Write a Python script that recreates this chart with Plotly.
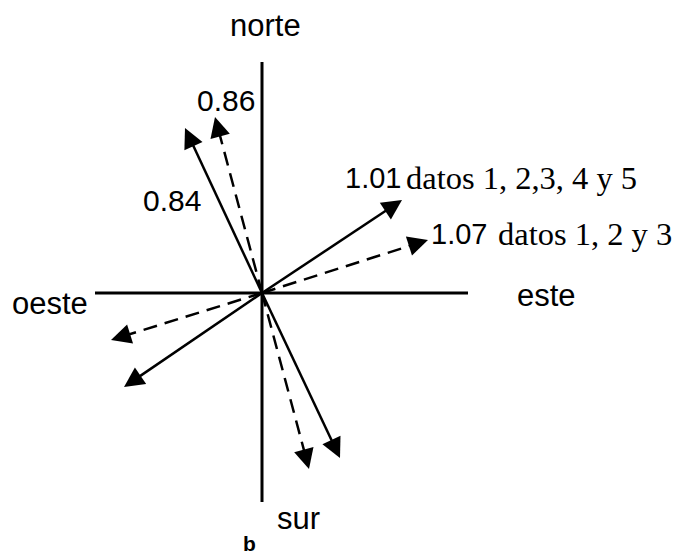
import math
import plotly.graph_objects as go

# ---- data (units: 1 = 100 px in the reference, origin at the axes crossing) ----
# solid vectors (datos 1, 2,3, 4 y 5)
solid_x = [-0.77, 1.40, -1.38, 0.78]
solid_y = [1.65, 0.93, -0.94, -1.65]
# dashed vectors (datos 1, 2 y 3)
dash_x = [-0.47, 1.66, -1.51, 0.47]
dash_y = [1.76, 0.53, -0.47, -1.76]

# compass axes extents
axis_x = [-1.67, 2.06]
axis_y = [-2.09, 2.31]

# labels
dir_labels = ["norte", "sur", "este", "oeste"]
value_labels = ["0.84", "0.86", "1.01", "1.07"]
series_labels = ["datos 1, 2,3, 4 y 5", "datos 1, 2 y 3"]
panel_label = "b"

fig = go.Figure()

# axes
fig.add_trace(go.Scatter(x=axis_x, y=[0, 0], mode="lines",
                         line=dict(color="black", width=3), hoverinfo="skip"))
fig.add_trace(go.Scatter(x=[0, 0], y=axis_y, mode="lines",
                         line=dict(color="black", width=3), hoverinfo="skip"))


def add_vec(vx, vy, dash):
    n = math.hypot(vx, vy)
    ux, uy = vx / n, vy / n
    # shaft (ends inside the arrow head)
    fig.add_trace(go.Scatter(
        x=[0, vx - 0.10 * ux], y=[0, vy - 0.10 * uy], mode="lines",
        line=dict(color="black", width=2.5, dash=dash),
        hoverinfo="skip"))
    # filled arrow head
    fig.add_annotation(
        x=vx, y=vy, ax=vx - 0.15 * ux, ay=vy - 0.15 * uy,
        xref="x", yref="y", axref="x", ayref="y",
        showarrow=True, arrowhead=2, arrowsize=1.6, arrowwidth=2.5,
        arrowcolor="black", text="")


for vx, vy in zip(solid_x, solid_y):
    add_vec(vx, vy, "solid")
for vx, vy in zip(dash_x, dash_y):
    add_vec(vx, vy, "14px,8px")

SANS = "Liberation Sans, Arial, sans-serif"
SERIF = "Liberation Serif, Times New Roman, serif"


def label(text, x, y, size=31, family=SANS, xanchor="center", bold=False):
    if bold:
        text = "<b>" + text + "</b>"
    fig.add_annotation(x=x, y=y, text=text, showarrow=False, xanchor=xanchor,
                       yanchor="middle", font=dict(family=family, size=size, color="black"))


label(dir_labels[0], 0.03, 2.68)
label(dir_labels[1], 0.36, -2.25)
label(dir_labels[2], 2.84, -0.02)
label(dir_labels[3], -2.12, -0.10)
label(value_labels[0], -0.90, 0.93, size=30)
label(value_labels[1], -0.36, 1.93, size=30)
label(value_labels[2], 0.81, 1.15, size=29, xanchor="left")
label(series_labels[0], 1.42, 1.15, size=32.5, family=SERIF, xanchor="left")
label(value_labels[3], 1.67, 0.59, size=29, xanchor="left")
label(series_labels[1], 2.34, 0.59, size=32.5, family=SERIF, xanchor="left")
label(panel_label, -0.13, -2.50, size=21, bold=True)

# the page body adds an 8 px offset, so the figure is 677x552 and ranges are shifted
fig.update_layout(
    width=677, height=552,
    margin=dict(l=0, r=0, t=0, b=0),
    paper_bgcolor="white", plot_bgcolor="white",
    showlegend=False,
    xaxis=dict(range=[-2.54, 4.23], visible=False, fixedrange=True),
    yaxis=dict(range=[-2.67, 2.85], visible=False, fixedrange=True),
)

fig.write_html("out.html")
